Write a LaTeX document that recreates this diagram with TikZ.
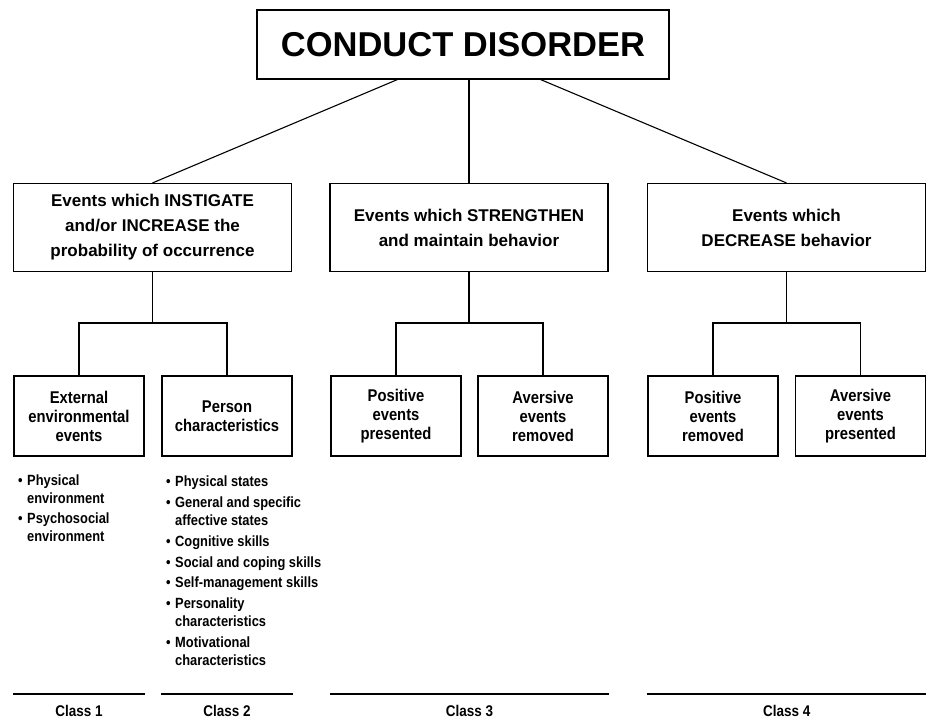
\documentclass[tikz,border=0pt]{standalone}
\usepackage{fontspec}
\setmainfont{Liberation Sans}
\newfontfamily\condfont[FakeStretch=0.87]{Liberation Sans}
\usetikzlibrary{calc}
\begin{document}
\begin{tikzpicture}[x=1pt,y=-1pt,
  ln/.style={line width=1.1pt},
  topbox/.style={draw,ln,inner sep=0pt,minimum width=412pt,minimum height=69pt,font=\bfseries\fontsize{34.5}{40}\selectfont},
  midbox/.style={draw,ln,inner sep=0pt,minimum width=278pt,minimum height=88pt,align=center,font=\bfseries\fontsize{17}{25}\selectfont},
  subbox/.style={draw,ln,inner sep=0pt,minimum width=130pt,minimum height=80pt,align=center,font=\condfont\bfseries\fontsize{17}{19}\selectfont},
  item/.style={anchor=north west,inner sep=0pt,align=left,font=\condfont\bfseries\fontsize{14.8}{17.5}\selectfont},
  cls/.style={anchor=base,inner sep=0pt,font=\condfont\bfseries\fontsize{15.5}{16}\selectfont}]
\useasboundingbox (0,0) rectangle (930,720);

\node[topbox] (top) at (463,44.5) {CONDUCT DISORDER};

\node[midbox] (A) at (152.5,227.5) {Events which INSTIGATE\\and/or INCREASE the\\probability of occurrence};
\node[midbox] (B) at (469,227.5) {Events which STRENGTHEN\\and maintain behavior};
\node[midbox] (C) at (786.5,227.5) {Events which\\DECREASE behavior};

\draw[ln] ([xshift=141pt]top.south west) -- (A.north);
\draw[ln] (top.south -| B.north) -- (B.north);
\draw[ln] ([xshift=-129pt]top.south east) -- (C.north);

\node[subbox] (A1) at (79,416) {External\\environmental\\events};
\node[subbox] (A2) at (227,416) {Person\\characteristics};
\node[subbox] (B1) at (396,416) {Positive\\events\\presented};
\node[subbox] (B2) at (543,416) {Aversive\\events\\removed};
\node[subbox] (C1) at (713,416) {Positive\\events\\removed};
\node[subbox] (C2) at (860.5,416) {Aversive\\events\\presented};

\foreach \p/\a/\b in {A/A1/A2,B/B1/B2,C/C1/C2}{
  \coordinate (\p j) at (\p.south |- 0,323);
  \draw[ln] (\p.south) -- (\p j);
  \draw[ln] (\a.north) -- (\a.north |- \p j) -- (\b.north |- \p j) -- (\b.north);
}

% bullet lists (y = top of first line)
\newcommand{\bul}{\llap{•\hspace{4.5pt}}}
\node[item] (i11) at (27,475) {\bul Physical\\environment};
\node[item] (i12) at (27,513) {\bul Psychosocial\\environment};

\node[item] (i21) at (175,476) {\bul Physical states};
\node[item] (i22) at (175,497) {\bul General and specific\\affective states};
\node[item] (i23) at (175,536) {\bul Cognitive skills};
\node[item] (i24) at (175,557) {\bul Social and coping skills};
\node[item] (i25) at (175,577) {\bul Self-management skills};
\node[item] (i26) at (175,598) {\bul Personality\\characteristics};
\node[item] (i27) at (175,637) {\bul Motivational\\characteristics};

% class rules
\foreach \n/\a/\b in {1/A1/A1,2/A2/A2,3/B1/B2,4/C1/C2}{
  \coordinate (l\n) at (\a.west |- 0,694);
  \coordinate (r\n) at (\b.east |- 0,694);
  \draw[ln] (l\n) -- (r\n);
  \node[cls] (c\n) at ($(l\n)!0.5!(r\n)+(0,22)$) {Class \n};
}
\end{tikzpicture}
\end{document}
